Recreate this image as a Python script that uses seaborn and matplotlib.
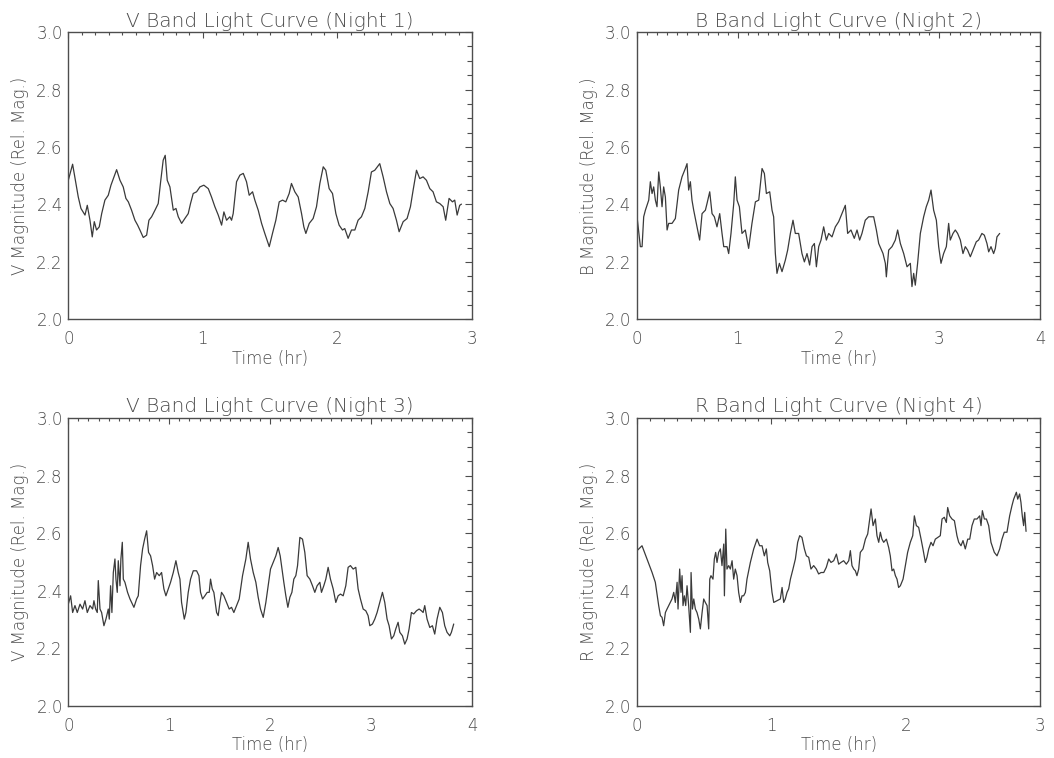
import pandas as pd
import matplotlib
matplotlib.use("Agg")
import matplotlib.pyplot as plt
from matplotlib.ticker import MultipleLocator
import seaborn as sns

# night 1, V band
t1 = [0.000, 0.032, 0.074, 0.094, 0.124, 0.141, 0.161, 0.178, 0.193, 0.210, 0.230, 0.248, 0.272, 0.297, 0.317,
      0.359, 0.384, 0.408, 0.428, 0.446, 0.470, 0.495, 0.515, 0.532, 0.557, 0.582, 0.599, 0.619, 0.644, 0.668,
      0.686, 0.705, 0.720, 0.735, 0.755, 0.780, 0.800, 0.817, 0.842, 0.866, 0.891, 0.908, 0.928, 0.953, 0.978,
      1.007, 1.040, 1.064, 1.089, 1.114, 1.139, 1.156, 1.176, 1.200, 1.213, 1.225, 1.250, 1.275, 1.300, 1.324,
      1.344, 1.369, 1.386, 1.411, 1.436, 1.460, 1.493, 1.517, 1.542, 1.567, 1.592, 1.616, 1.641, 1.658, 1.683,
      1.708, 1.733, 1.750, 1.765, 1.790, 1.819, 1.844, 1.869, 1.894, 1.913, 1.938, 1.963, 1.988, 2.012, 2.037,
      2.054, 2.079, 2.104, 2.129, 2.153, 2.178, 2.203, 2.228, 2.252, 2.277, 2.314, 2.339, 2.364, 2.389, 2.413,
      2.438, 2.458, 2.488, 2.517, 2.542, 2.562, 2.587, 2.611, 2.636, 2.661, 2.686, 2.710, 2.735, 2.760, 2.785,
      2.804, 2.829, 2.854, 2.871, 2.889, 2.908, 2.921]
m1 = [2.484, 2.540, 2.426, 2.386, 2.363, 2.397, 2.345, 2.287, 2.340, 2.311, 2.322, 2.368, 2.415, 2.432, 2.467,
      2.521, 2.484, 2.461, 2.421, 2.409, 2.380, 2.345, 2.328, 2.311, 2.285, 2.293, 2.345, 2.357, 2.380, 2.403,
      2.479, 2.554, 2.571, 2.484, 2.461, 2.380, 2.386, 2.357, 2.334, 2.351, 2.368, 2.403, 2.438, 2.444, 2.461,
      2.467, 2.455, 2.426, 2.392, 2.363, 2.328, 2.374, 2.345, 2.357, 2.345, 2.368, 2.479, 2.502, 2.508, 2.479,
      2.432, 2.444, 2.415, 2.380, 2.334, 2.299, 2.253, 2.299, 2.345, 2.409, 2.415, 2.409, 2.438, 2.473, 2.444,
      2.426, 2.368, 2.322, 2.299, 2.334, 2.351, 2.392, 2.473, 2.531, 2.519, 2.455, 2.438, 2.368, 2.328, 2.311,
      2.316, 2.282, 2.311, 2.311, 2.345, 2.357, 2.386, 2.444, 2.513, 2.519, 2.542, 2.496, 2.444, 2.403, 2.386,
      2.345, 2.305, 2.340, 2.351, 2.392, 2.450, 2.519, 2.490, 2.496, 2.484, 2.455, 2.444, 2.409, 2.403, 2.392,
      2.345, 2.421, 2.409, 2.415, 2.363, 2.397, 2.401]

# night 2, B band
t2 = [0.000, 0.033, 0.050, 0.066, 0.083, 0.099, 0.116, 0.132, 0.149, 0.165, 0.182, 0.198, 0.215, 0.231, 0.248,
      0.264, 0.281, 0.298, 0.314, 0.347, 0.380, 0.413, 0.446, 0.479, 0.496, 0.512, 0.529, 0.545, 0.562, 0.595,
      0.621, 0.645, 0.678, 0.694, 0.721, 0.744, 0.767, 0.793, 0.820, 0.843, 0.860, 0.893, 0.909, 0.932, 0.959,
      0.975, 0.992, 1.015, 1.041, 1.074, 1.107, 1.140, 1.174, 1.207, 1.240, 1.263, 1.283, 1.316, 1.339, 1.355,
      1.372, 1.388, 1.412, 1.438, 1.471, 1.494, 1.521, 1.547, 1.570, 1.603, 1.636, 1.660, 1.686, 1.712, 1.736,
      1.759, 1.779, 1.802, 1.825, 1.851, 1.878, 1.901, 1.934, 1.967, 2.000, 2.033, 2.066, 2.089, 2.122, 2.155,
      2.182, 2.208, 2.231, 2.264, 2.298, 2.347, 2.374, 2.397, 2.440, 2.463, 2.473, 2.496, 2.529, 2.562, 2.585,
      2.612, 2.645, 2.678, 2.711, 2.727, 2.744, 2.760, 2.783, 2.810, 2.843, 2.869, 2.893, 2.916, 2.942, 2.969,
      2.992, 3.015, 3.041, 3.068, 3.091, 3.107, 3.134, 3.157, 3.180, 3.207, 3.233, 3.256, 3.279, 3.306, 3.339,
      3.365, 3.388, 3.421, 3.445, 3.471, 3.488, 3.511, 3.537, 3.554, 3.570, 3.597]
m2 = [2.357, 2.253, 2.253, 2.357, 2.380, 2.397, 2.415, 2.479, 2.438, 2.461, 2.415, 2.392, 2.513, 2.461, 2.392,
      2.461, 2.426, 2.311, 2.334, 2.334, 2.351, 2.450, 2.496, 2.525, 2.542, 2.450, 2.479, 2.415, 2.380, 2.322,
      2.276, 2.368, 2.380, 2.403, 2.444, 2.368, 2.357, 2.322, 2.368, 2.299, 2.253, 2.253, 2.229, 2.299, 2.403,
      2.496, 2.415, 2.392, 2.299, 2.311, 2.247, 2.334, 2.409, 2.415, 2.525, 2.508, 2.438, 2.444, 2.380, 2.357,
      2.229, 2.160, 2.195, 2.166, 2.206, 2.241, 2.299, 2.345, 2.299, 2.299, 2.229, 2.200, 2.229, 2.189, 2.253,
      2.264, 2.183, 2.253, 2.276, 2.322, 2.276, 2.299, 2.287, 2.322, 2.340, 2.368, 2.397, 2.299, 2.311, 2.282,
      2.311, 2.276, 2.299, 2.345, 2.357, 2.357, 2.311, 2.264, 2.229, 2.195, 2.148, 2.241, 2.253, 2.276, 2.311,
      2.264, 2.229, 2.183, 2.195, 2.114, 2.160, 2.119, 2.195, 2.299, 2.357, 2.392, 2.415, 2.450, 2.380, 2.345,
      2.253, 2.195, 2.229, 2.253, 2.334, 2.276, 2.299, 2.311, 2.299, 2.276, 2.229, 2.253, 2.241, 2.218, 2.247,
      2.270, 2.276, 2.299, 2.293, 2.264, 2.235, 2.253, 2.229, 2.247, 2.287, 2.299]

# night 3, V band
t3 = [0.000, 0.023, 0.043, 0.066, 0.089, 0.116, 0.142, 0.165, 0.188, 0.215, 0.241, 0.254, 0.271, 0.287, 0.297,
      0.314, 0.330, 0.353, 0.373, 0.396, 0.406, 0.419, 0.432, 0.446, 0.462, 0.472, 0.485, 0.495, 0.512, 0.521,
      0.535, 0.545, 0.561, 0.587, 0.611, 0.627, 0.650, 0.677, 0.693, 0.716, 0.736, 0.756, 0.776, 0.795, 0.815,
      0.835, 0.855, 0.875, 0.901, 0.924, 0.947, 0.967, 0.990, 1.013, 1.040, 1.066, 1.089, 1.106, 1.122, 1.149,
      1.165, 1.188, 1.211, 1.238, 1.271, 1.294, 1.310, 1.330, 1.353, 1.376, 1.396, 1.409, 1.426, 1.442, 1.469,
      1.485, 1.502, 1.518, 1.541, 1.568, 1.594, 1.617, 1.640, 1.667, 1.693, 1.726, 1.759, 1.782, 1.805, 1.832,
      1.858, 1.881, 1.904, 1.931, 1.957, 1.980, 2.003, 2.030, 2.056, 2.079, 2.099, 2.112, 2.135, 2.155, 2.175,
      2.195, 2.215, 2.234, 2.254, 2.271, 2.294, 2.320, 2.343, 2.366, 2.393, 2.419, 2.442, 2.465, 2.492, 2.508,
      2.531, 2.551, 2.574, 2.597, 2.624, 2.650, 2.673, 2.696, 2.723, 2.749, 2.772, 2.795, 2.822, 2.848, 2.871,
      2.894, 2.921, 2.947, 2.970, 2.987, 3.013, 3.036, 3.059, 3.086, 3.112, 3.135, 3.158, 3.178, 3.201, 3.224,
      3.244, 3.267, 3.284, 3.310, 3.333, 3.356, 3.376, 3.399, 3.422, 3.449, 3.475, 3.498, 3.515, 3.531, 3.554,
      3.581, 3.607, 3.630, 3.653, 3.680, 3.706, 3.729, 3.752, 3.779, 3.795, 3.818]
m3 = [2.353, 2.382, 2.324, 2.348, 2.324, 2.353, 2.336, 2.365, 2.324, 2.348, 2.336, 2.365, 2.336, 2.324, 2.435,
      2.336, 2.324, 2.278, 2.301, 2.336, 2.301, 2.417, 2.324, 2.463, 2.510, 2.440, 2.394, 2.504, 2.417, 2.510,
      2.568, 2.440, 2.429, 2.394, 2.371, 2.359, 2.342, 2.371, 2.382, 2.487, 2.545, 2.579, 2.608, 2.533, 2.521,
      2.487, 2.440, 2.463, 2.452, 2.463, 2.406, 2.382, 2.406, 2.429, 2.463, 2.504, 2.463, 2.440, 2.359, 2.301,
      2.324, 2.394, 2.440, 2.469, 2.469, 2.452, 2.394, 2.371, 2.382, 2.394, 2.394, 2.440, 2.406, 2.394, 2.324,
      2.313, 2.359, 2.394, 2.382, 2.359, 2.336, 2.342, 2.324, 2.348, 2.371, 2.452, 2.510, 2.568, 2.510, 2.463,
      2.429, 2.377, 2.336, 2.307, 2.359, 2.417, 2.475, 2.498, 2.521, 2.550, 2.521, 2.487, 2.429, 2.382, 2.342,
      2.377, 2.394, 2.440, 2.452, 2.487, 2.585, 2.579, 2.533, 2.452, 2.440, 2.417, 2.394, 2.417, 2.429, 2.394,
      2.417, 2.440, 2.481, 2.440, 2.406, 2.359, 2.382, 2.388, 2.382, 2.417, 2.481, 2.487, 2.475, 2.481, 2.406,
      2.371, 2.336, 2.330, 2.313, 2.278, 2.284, 2.301, 2.324, 2.359, 2.394, 2.359, 2.301, 2.278, 2.232, 2.243,
      2.267, 2.290, 2.255, 2.243, 2.214, 2.232, 2.267, 2.324, 2.319, 2.330, 2.336, 2.330, 2.324, 2.348, 2.301,
      2.272, 2.278, 2.249, 2.301, 2.342, 2.324, 2.278, 2.255, 2.243, 2.255, 2.284]

# night 4, R band
t4 = [0.000, 0.037, 0.074, 0.112, 0.136, 0.161, 0.174, 0.186, 0.198, 0.211, 0.223, 0.236, 0.248, 0.260, 0.273,
      0.285, 0.298, 0.305, 0.317, 0.327, 0.335, 0.342, 0.352, 0.362, 0.372, 0.384, 0.397, 0.402, 0.412, 0.422,
      0.434, 0.446, 0.459, 0.471, 0.484, 0.496, 0.508, 0.521, 0.533, 0.541, 0.550, 0.565, 0.575, 0.585, 0.595,
      0.607, 0.620, 0.632, 0.645, 0.650, 0.660, 0.669, 0.682, 0.694, 0.707, 0.719, 0.731, 0.744, 0.756, 0.769,
      0.781, 0.793, 0.806, 0.818, 0.843, 0.868, 0.893, 0.912, 0.930, 0.947, 0.962, 0.972, 0.987, 1.004, 1.017,
      1.041, 1.066, 1.079, 1.091, 1.103, 1.116, 1.128, 1.141, 1.160, 1.178, 1.195, 1.210, 1.227, 1.245, 1.260,
      1.277, 1.294, 1.314, 1.334, 1.351, 1.369, 1.389, 1.408, 1.426, 1.443, 1.463, 1.483, 1.500, 1.517, 1.537,
      1.557, 1.575, 1.587, 1.599, 1.612, 1.624, 1.636, 1.649, 1.661, 1.681, 1.699, 1.716, 1.731, 1.741, 1.756,
      1.773, 1.785, 1.798, 1.810, 1.822, 1.835, 1.855, 1.872, 1.884, 1.897, 1.909, 1.922, 1.934, 1.946, 1.959,
      1.979, 1.996, 2.013, 2.033, 2.051, 2.063, 2.078, 2.095, 2.113, 2.127, 2.145, 2.157, 2.170, 2.187, 2.202,
      2.219, 2.237, 2.256, 2.269, 2.286, 2.301, 2.311, 2.326, 2.343, 2.361, 2.380, 2.393, 2.410, 2.425, 2.442,
      2.460, 2.475, 2.492, 2.509, 2.529, 2.549, 2.559, 2.569, 2.584, 2.599, 2.616, 2.633, 2.658, 2.678, 2.698,
      2.715, 2.732, 2.752, 2.772, 2.789, 2.802, 2.822, 2.832, 2.846, 2.856, 2.866, 2.876, 2.884, 2.894]
m4 = [2.539, 2.556, 2.510, 2.463, 2.429, 2.348, 2.313, 2.307, 2.278, 2.324, 2.336, 2.348, 2.359, 2.371, 2.394,
      2.359, 2.429, 2.336, 2.475, 2.394, 2.452, 2.348, 2.382, 2.348, 2.417, 2.348, 2.255, 2.463, 2.336, 2.371,
      2.336, 2.324, 2.301, 2.267, 2.324, 2.371, 2.359, 2.348, 2.267, 2.440, 2.452, 2.440, 2.510, 2.533, 2.498,
      2.533, 2.545, 2.487, 2.562, 2.382, 2.614, 2.475, 2.487, 2.475, 2.504, 2.440, 2.475, 2.452, 2.394, 2.359,
      2.382, 2.382, 2.394, 2.440, 2.498, 2.545, 2.579, 2.556, 2.556, 2.521, 2.545, 2.498, 2.469, 2.394, 2.359,
      2.365, 2.371, 2.411, 2.359, 2.371, 2.394, 2.406, 2.440, 2.475, 2.510, 2.568, 2.591, 2.585, 2.545, 2.521,
      2.516, 2.475, 2.487, 2.475, 2.458, 2.463, 2.463, 2.481, 2.510, 2.498, 2.504, 2.527, 2.492, 2.498, 2.504,
      2.492, 2.504, 2.539, 2.487, 2.475, 2.469, 2.452, 2.475, 2.533, 2.545, 2.579, 2.597, 2.649, 2.684, 2.626,
      2.649, 2.591, 2.568, 2.603, 2.579, 2.568, 2.579, 2.550, 2.521, 2.469, 2.475, 2.452, 2.440, 2.411, 2.417,
      2.440, 2.487, 2.533, 2.568, 2.591, 2.660, 2.626, 2.620, 2.579, 2.545, 2.498, 2.516, 2.545, 2.568, 2.556,
      2.579, 2.585, 2.591, 2.649, 2.655, 2.637, 2.689, 2.660, 2.649, 2.643, 2.591, 2.568, 2.556, 2.574, 2.545,
      2.579, 2.579, 2.626, 2.649, 2.649, 2.660, 2.626, 2.678, 2.649, 2.649, 2.626, 2.568, 2.533, 2.521, 2.545,
      2.579, 2.603, 2.603, 2.660, 2.695, 2.718, 2.742, 2.718, 2.736, 2.707, 2.660, 2.626, 2.672, 2.606]

titles = ["V Band Light Curve (Night 1)", "B Band Light Curve (Night 2)",
          "V Band Light Curve (Night 3)", "R Band Light Curve (Night 4)"]
ylabels = ["V Magnitude (Rel. Mag.)", "B Magnitude (Rel. Mag.)",
           "V Magnitude (Rel. Mag.)", "R Magnitude (Rel. Mag.)"]
xmaxes = [3, 4, 4, 3]
series = [(t1, m1), (t2, m2), (t3, m3), (t4, m4)]

sns.set_style("white")
plt.rcParams['font.family'] = ['DejaVu Sans']
plt.rcParams['font.weight'] = 'light'
plt.rcParams['axes.titleweight'] = 'light'
plt.rcParams['axes.labelweight'] = 'light'
grey = '#4d4d4d'

fig = plt.figure(figsize=(10.54, 7.58), dpi=100)
positions = [
    [0.0648, 0.5787, 0.3831, 0.3790],
    [0.6044, 0.5787, 0.3826, 0.3790],
    [0.0648, 0.0690, 0.3831, 0.3795],
    [0.6044, 0.0690, 0.3826, 0.3795],
]

for i, (t, m) in enumerate(series):
    ax = fig.add_axes(positions[i])
    df = pd.DataFrame({'time': t, 'mag': m})
    sns.lineplot(data=df, x='time', y='mag', ax=ax, color='#3a3a3a',
                 linewidth=0.9, sort=False, estimator=None)
    ax.set_xlim(0, xmaxes[i])
    ax.set_ylim(2.0, 3.0)
    ax.xaxis.set_major_locator(MultipleLocator(1))
    ax.xaxis.set_minor_locator(MultipleLocator(0.1))
    ax.yaxis.set_major_locator(MultipleLocator(0.2))
    ax.yaxis.set_minor_locator(MultipleLocator(0.05))
    ax.yaxis.set_major_formatter(plt.FormatStrFormatter('%.1f'))
    ax.tick_params(which='both', direction='in', top=True, right=True,
                   color=grey, labelcolor=grey, labelsize=12)
    ax.tick_params(axis='y', which='major', length=5, width=0.8, pad=4)
    ax.tick_params(axis='y', which='minor', length=3.5, width=0.8)
    ax.tick_params(axis='x', which='major', length=4, width=0.8, pad=8)
    ax.tick_params(axis='x', which='minor', length=2, width=0.8)
    for sp in ax.spines.values():
        sp.set_color(grey)
        sp.set_linewidth(1.0)
    ax.set_title(titles[i], fontsize=14.5, color=grey, pad=4)
    ax.set_xlabel("Time (hr)", fontsize=12, color=grey, labelpad=1)
    ax.set_ylabel(ylabels[i], fontsize=12, color=grey, labelpad=5)

fig.savefig("out.png", dpi=100)
